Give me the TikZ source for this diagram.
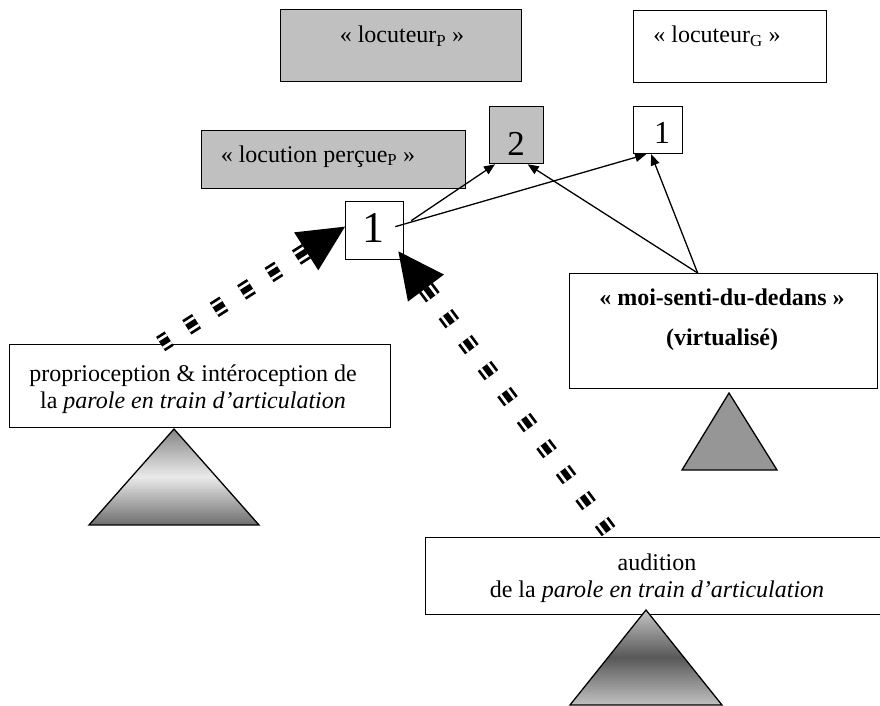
\documentclass[tikz,border=0pt]{standalone}
\usepackage{fontspec}
\setmainfont{Liberation Serif}
\usetikzlibrary{arrows.meta,calc}
\definecolor{boxgray}{HTML}{C0C0C0}
\definecolor{trigray}{HTML}{969696}
\definecolor{ptop}{HTML}{858585}
\definecolor{pmid}{HTML}{EAEAEA}
\definecolor{pbot}{HTML}{6E6E6E}
\definecolor{atop}{HTML}{C4C4C4}
\definecolor{amid}{HTML}{575757}
\definecolor{abot}{HTML}{C0C0C0}
\newcommand\stripedarrow[2]{%
  \coordinate (sbase) at ($(#2)!46pt!(#1)$);
  \coordinate (sl) at ($(sbase)!22.5pt!90:(#2)$);
  \coordinate (sr) at ($(sbase)!22.5pt!-90:(#2)$);
  \draw[black, line width=17pt, dash pattern=on 11.5pt off 21pt] (sbase) -- (#1);
  \draw[white, line width=11.5pt, dash pattern=on 11.5pt off 21pt] (sbase) -- (#1);
  \draw[black, line width=6pt, dash pattern=on 11.5pt off 21pt] (sbase) -- (#1);
  \fill[black] (#2) -- (sl) -- (sr) -- cycle;
}
% gradient triangle: apex x, apex y, half base, height, top/mid/bottom colour names
\newcommand\gradtri[7]{%
  \begin{scope}
    \clip (#1,#2) -- ({#1+#3},{#2+#4}) -- ({#1-#3},{#2+#4}) -- cycle;
    \foreach \i in {0,...,47}{
      \pgfmathsetmacro\tt{(\i+0.5)/48}
      \pgfmathsetmacro\yy{#2+\i*#4/48}
      \ifdim\tt pt<0.5pt
        \pgfmathtruncatemacro\pp{200*\tt}
        \fill[#6!\pp!#5] ({#1-#3-2},\yy) rectangle ({#1+#3+2},{\yy+#4/48+0.4});
      \else
        \pgfmathtruncatemacro\pp{200*\tt-100}
        \fill[#7!\pp!#6] ({#1-#3-2},\yy) rectangle ({#1+#3+2},{\yy+#4/48+0.4});
      \fi
    }
  \end{scope}
  \draw[line width=1.3pt] (#1,#2) -- ({#1+#3},{#2+#4}) -- ({#1-#3},{#2+#4}) -- cycle;
}
\begin{document}
\begin{tikzpicture}[x=1pt,y=-1pt,
  box/.style={draw, line width=1.3pt, inner sep=0pt, anchor=north west, fill=white},
  graybox/.style={box, fill=boxgray},
  txt/.style={font=\fontsize{24}{28}\selectfont, inner sep=0pt, anchor=base},
  boldtxt/.style={txt, font=\fontsize{24}{28}\selectfont\bfseries},
  digit/.style={inner sep=0pt, anchor=base},
  thinarrow/.style={line width=1.3pt, -{Triangle[length=11pt,width=9pt]}},
  triline/.style={draw=black, line width=1.3pt}
]
\useasboundingbox (0,0) rectangle (880,706);

% boxes
\node[graybox, minimum width=241pt, minimum height=72pt] (locP) at (280,9) {};
\node[box, minimum width=193pt, minimum height=72pt] (locG) at (633,10) {};
\node[graybox, minimum width=264pt, minimum height=58pt] (perc) at (201,130) {};
\node[graybox, minimum width=54pt, minimum height=57pt] (two) at (489,106) {};
\node[box, minimum width=49pt, minimum height=47pt] (oneG) at (633,106) {};
\node[box, minimum width=58pt, minimum height=58pt] (oneP) at (345,201) {};
\node[box, minimum width=308pt, minimum height=115pt] (moi) at (569,273) {};
\node[box, minimum width=381pt, minimum height=83pt] (prop) at (9,344) {};
\node[box, minimum width=470pt, minimum height=77pt] (aud) at (425,537) {};

% texts
\node[txt] (tlocP) at (402,43) {« locuteur\textsubscript{P} »};
\node[txt] (tlocG) at (717,43) {« locuteur\textsubscript{G} »};
\node[txt] (tperc) at (318,162) {« locution perçue\textsubscript{P} »};
\node[digit, font=\fontsize{35}{35}\selectfont] (ttwo) at (516,155) {2};
\node[digit, font=\fontsize{32}{32}\selectfont] (toneG) at (662,143) {1};
\node[digit, font=\fontsize{44}{44}\selectfont] (toneP) at (373,242) {1};
\node[boldtxt] (tmoiA) at (722,305) {« moi-senti-du-dedans »};
\node[boldtxt] (tmoiB) at (722,345) {(virtualisé)};
\node[txt] (tpropA) at (193,381) {proprioception \& intéroception de};
\node[txt] (tpropB) at (193,408) {la \textit{parole en train d’articulation}};
\node[txt] (taudA) at (657,570) {audition};
\node[txt] (taudB) at (657,597) {de la \textit{parole en train d’articulation}};

% triangles
\gradtri{174}{429}{85}{96}{ptop}{pmid}{pbot}
\gradtri{646}{610}{76}{95}{atop}{amid}{abot}
\draw[triline, fill=trigray] (729,393) -- (777,470) -- (682,470) -- cycle;

% thin connectors
\coordinate (sA) at ($(oneP.east)+(7,-10)$);
\coordinate (sB) at ($(oneP.east)+(-9,-4)$);
\coordinate (mtop) at ($(moi.north)+(-26,0)$);
\draw[thinarrow] (sA) -- ($(two.south west)+(6,0)$);
\draw[thinarrow] (sB) -- ($(oneG.south)+(-12,0)$);
\draw[thinarrow] (mtop) -- ($(two.south)+(11,0)$);
\draw[thinarrow] (mtop) -- ($(oneG.south)+(-7,0)$);

% striped arrows
\coordinate (s1) at ($(prop.north)+(-39.5,0)$);
\coordinate (t1) at ($(oneP.west)+(0,-4)$);
\coordinate (s2) at ($(aud.north west)+(188,0)$);
\coordinate (t2) at ($(oneP.south east)+(-6,-9)$);
\stripedarrow{s1}{t1}
\stripedarrow{s2}{t2}
\end{tikzpicture}
\end{document}
